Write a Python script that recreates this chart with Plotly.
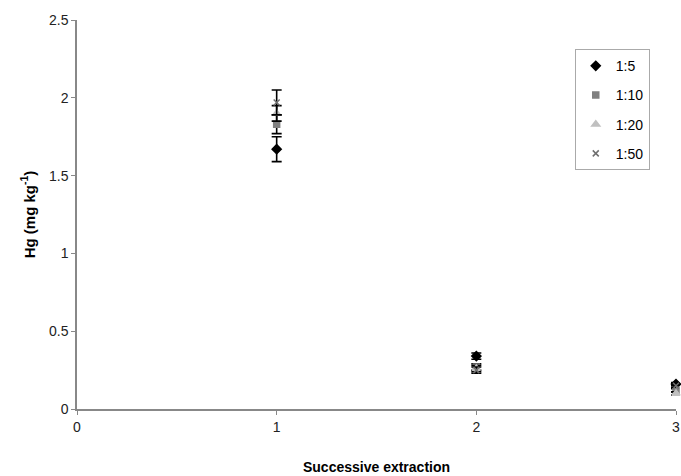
import plotly.graph_objects as go

x_vals = [1, 2, 3]
series_names = ["1:5", "1:10", "1:20", "1:50"]
hg_1_5 = [1.67, 0.34, 0.16]
hg_1_10 = [1.83, 0.27, 0.12]
hg_1_20 = [1.90, 0.26, 0.10]
hg_1_50 = [1.97, 0.25, 0.15]
err_1_5 = [0.08, 0.02, 0.01]
err_1_10 = [0.06, 0.02, 0.01]
err_1_20 = [0.05, 0.02, 0.01]
err_1_50 = [0.08, 0.02, 0.01]

values = [hg_1_5, hg_1_10, hg_1_20, hg_1_50]
errors = [err_1_5, err_1_10, err_1_20, err_1_50]
symbols = ["diamond", "square", "triangle-up", "x-thin"]
colors = ["#000000", "#808080", "#c0c0c0", "#707070"]
sizes = [7, 6, 7, 6]

fig = go.Figure()
for i, (name, v, e, s, c, sz) in enumerate(zip(series_names, values, errors, symbols, colors, sizes)):
    fig.add_trace(go.Scatter(
        x=x_vals, y=v, mode="markers", name=name, legendgroup=f"g{i}",
        marker=dict(symbol=s, color=c, size=sz, line=dict(color=c, width=1.5)),
        error_y=dict(type="data", array=e, visible=True, color="#000000", thickness=1.6, width=5),
        cliponaxis=False,
    ))

axis_font = dict(family="Liberation Sans, Arial, sans-serif", size=14, color="#222")

fig.update_layout(
    width=681, height=476,
    margin=dict(l=77, r=5, t=20, b=67),
    plot_bgcolor="white", paper_bgcolor="white",
    font=dict(family="Liberation Sans, Arial, sans-serif", size=14, color="#000"),
    showlegend=True,
    legend=dict(
        x=0.831, y=0.925, xanchor="left", yanchor="top",
        bordercolor="#aaa", borderwidth=1, bgcolor="white",
        font=dict(size=14), tracegroupgap=8, itemwidth=30,
    ),
    xaxis=dict(
        range=[0, 3], tickvals=[0, 1, 2, 3], ticks="outside", ticklen=4,
        tickcolor="#888", showline=True, linecolor="#888", linewidth=1.5,
        showgrid=False, zeroline=False, automargin=False,
        tickfont=axis_font, ticklabeloverflow="allow",
        title=dict(text="<b>Successive extraction</b>", font=dict(size=14), standoff=29),
    ),
    yaxis=dict(
        range=[0, 2.5], dtick=0.5, ticks="outside", ticklen=4,
        tickcolor="#888", showline=True, linecolor="#888", linewidth=1.5,
        showgrid=False, zeroline=False, automargin=True,
        tickformat="~g", tickfont=axis_font,
        title=dict(text="<b>Hg (mg kg<sup>-1</sup>)</b>", font=dict(size=15), standoff=10),
    ),
)

fig.write_html("out.html", config={"displayModeBar": False},
               post_script="document.body.style.margin='0px';")
